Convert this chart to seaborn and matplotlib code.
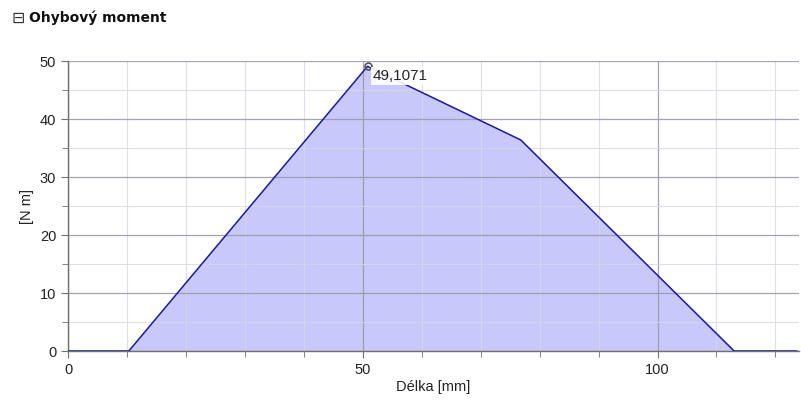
import matplotlib
matplotlib.use("Agg")
import matplotlib.pyplot as plt
import seaborn as sns
import pandas as pd
from matplotlib.ticker import MultipleLocator

# bending moment diagram values
delka = [0, 10.3, 50.8, 76.8, 113.0, 123.7]
moment = [0, 0, 49.1071, 36.4, 0, 0]
peak_label = "49,1071"

df = pd.DataFrame({"Délka [mm]": delka, "[N m]": moment})

sns.set_style("white")
plt.rcParams['font.family'] = ['Liberation Sans', 'DejaVu Sans']

fig = plt.figure(figsize=(8.01, 4.13), dpi=100)
ax = fig.add_axes([0.085, 0.150, 0.9125, 0.702])

ax.fill_between(df["Délka [mm]"], df["[N m]"], color="#c8c8fa", zorder=1)
sns.lineplot(data=df, x="Délka [mm]", y="[N m]", ax=ax, color="#1a1aa0",
             linewidth=1.1, zorder=3)

# peak marker and label
i = moment.index(max(moment))
ax.plot(delka[i], moment[i], marker="o", ms=5, mfc="none", mec="#555555",
        mew=1.2, zorder=4)
ax.text(delka[i] + 0.9, moment[i] - 0.5, peak_label, fontsize=11,
        va="top", ha="left", zorder=5,
        bbox=dict(facecolor="white", edgecolor="none", pad=1.5, alpha=0.9))

ax.set_xlim(0, 124)
ax.set_ylim(0, 50)
ax.xaxis.set_major_locator(MultipleLocator(50))
ax.xaxis.set_minor_locator(MultipleLocator(10))
ax.yaxis.set_major_locator(MultipleLocator(10))
ax.yaxis.set_minor_locator(MultipleLocator(5))
# grid drawn over the fill, like the reference
ax.set_axisbelow(False)
ax.grid(which="major", color="#9a9aa8", linewidth=0.9, alpha=0.9)
ax.grid(which="minor", color="#d8d8e4", linewidth=0.8, alpha=0.8)

for s in ["top", "right"]:
    ax.spines[s].set_visible(False)
for s in ["left", "bottom"]:
    ax.spines[s].set_color("#707070")
    ax.spines[s].set_linewidth(1.0)
    ax.spines[s].set_zorder(2.6)

ax.tick_params(which="both", direction="out", color="#707070",
               labelsize=10.5, labelcolor="#222222")
ax.tick_params(which="major", length=5, bottom=True, left=True)
ax.tick_params(which="minor", length=4, bottom=True, left=True)

ax.set_xlabel("Délka [mm]", fontsize=10.5, color="#222222", labelpad=2)
ax.set_ylabel("[N m]", fontsize=10.5, color="#222222", labelpad=4)

fig.text(0.015, 0.956, "⊟", fontsize=11.5, va="center", ha="left",
         family=["DejaVu Sans"], color="#333333")
fig.text(0.036, 0.956, "Ohybový moment", fontsize=10, fontweight="bold",
         va="center", ha="left", family=["DejaVu Sans"], color="#111111")

fig.savefig("out.png", dpi=100)
